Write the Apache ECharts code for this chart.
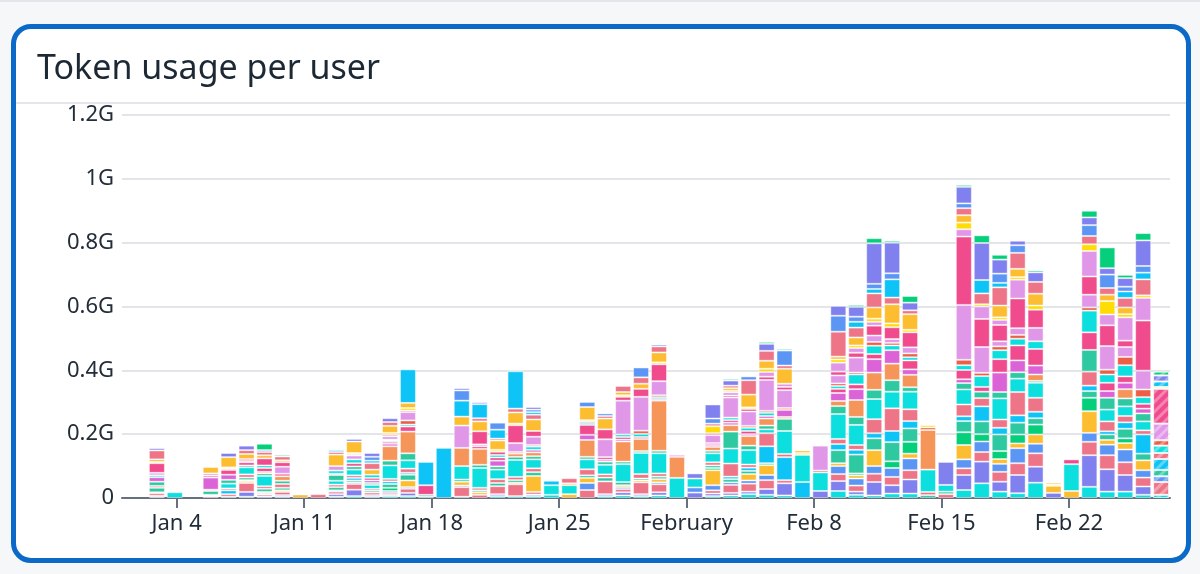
<!DOCTYPE html>
<html>
<head>
<meta charset="utf-8">
<script src="https://cdn.jsdelivr.net/npm/echarts@6/dist/echarts.min.js"></script>
<style>
html,body{margin:0;padding:0;width:1200px;height:574px;overflow:hidden;background:#f6f7f9;font-family:"Noto Sans",sans-serif;}
#topline{position:absolute;left:0;top:0;width:1200px;height:2px;background:#e3e5ea;}
#card{position:absolute;left:11px;top:24px;width:1170px;height:529px;border:5px solid #0b69c7;border-radius:20px;background:#fff;}
#sep{position:absolute;left:0;right:0;top:73px;height:2px;background:#e4e6eb;}
#chart{position:absolute;left:0;top:0;width:1200px;height:574px;}
</style>
</head>
<body>
<div id="topline"></div>
<div id="card"><div id="sep"></div></div>
<div id="chart"></div>
<script>
// Days shown (one stacked bar per day), 2026
const dates = [
 '2026-01-01','2026-01-02','2026-01-03','2026-01-04','2026-01-05','2026-01-06','2026-01-07','2026-01-08','2026-01-09','2026-01-10',
 '2026-01-11','2026-01-12','2026-01-13','2026-01-14','2026-01-15','2026-01-16','2026-01-17','2026-01-18','2026-01-19','2026-01-20',
 '2026-01-21','2026-01-22','2026-01-23','2026-01-24','2026-01-25','2026-01-26','2026-01-27','2026-01-28','2026-01-29','2026-01-30',
 '2026-01-31','2026-02-01','2026-02-02','2026-02-03','2026-02-04','2026-02-05','2026-02-06','2026-02-07','2026-02-08','2026-02-09',
 '2026-02-10','2026-02-11','2026-02-12','2026-02-13','2026-02-14','2026-02-15','2026-02-16','2026-02-17','2026-02-18','2026-02-19',
 '2026-02-20','2026-02-21','2026-02-22','2026-02-23','2026-02-24','2026-02-25','2026-02-26','2026-02-27'
];
// Weekly tick marks on the time axis
const tickDates  = ['2026-01-04','2026-01-11','2026-01-18','2026-01-25','2026-02-01','2026-02-08','2026-02-15','2026-02-22'];
const tickLabels = ['Jan 4','Jan 11','Jan 18','Jan 25','February','Feb 8','Feb 15','Feb 22'];
const axisStart = '2026-01-01T00:00';
const axisEnd   = '2026-02-27T13:12';
const yTicks = [0, 200, 400, 600, 800, 1000, 1200]; // millions of tokens

// Tokens per user per day (millions)
const userA = [0,3,18,0,0,4,4,0,4,0, 0,4,6,4,6,6,4,0,4,0, 6,6,6,10,0,0,6,8,6,8, 0,0,6,8,12,10,8,0,0,22, 10,8,14,14,0,0,25,46,20,15, 48,0,0,35,20,20,10,10];
const userB = [0,4,0,0,0,0,15,5,5,0, 0,8,20,5,4,10,0,0,0,0, 6,0,5,0,0,0,6,10,6,10, 0,17,8,8,8,18,38,0,22,31, 10,42,26,44,0,0,47,68,31,57, 50,16,0,99,70,52,26,0];
const userC = [0,8,0,0,5,8,28,6,10,0, 12,8,18,8,6,13,0,0,30,10, 25,37,8,0,0,25,40,10,37,25, 0,0,10,25,25,28,10,0,0,22, 19,26,26,29,0,12,21,30,31,37, 42,0,0,42,44,40,28,40];
const userD = [0,3,0,0,2,0,0,4,0,0, 0,4,5,0,6,5,0,0,5,0, 0,0,0,0,0,22,0,6,0,6, 0,16,16,8,10,16,0,0,0,25, 22,24,28,37,0,0,28,33,25,47, 30,0,0,28,33,40,23,18];
const userE = [0,0,0,0,3,0,6,4,5,11, 0,0,0,0,0,21,0,0,12,8, 0,5,50,0,12,16,0,6,6,10, 0,0,47,0,20,31,0,0,0,9, 10,50,0,15,0,0,45,0,15,15, 29,22,22,68,15,20,31,0];
const userF = [0,0,0,0,0,0,3,0,0,0, 0,0,0,0,10,0,0,0,0,0, 0,0,0,0,0,0,0,0,0,0, 0,0,7,0,0,6,0,0,0,0, 6,0,21,37,0,0,40,23,25,28, 31,0,0,42,0,15,0,0];
const userG = [0,14,0,0,12,0,8,10,8,0, 0,10,6,6,12,18,6,0,7,6, 10,8,12,0,0,8,12,10,6,8, 0,0,8,10,10,0,0,0,0,41, 59,37,60,42,9,8,35,40,52,37, 20,0,0,21,17,30,21,20];
const userH = [0,0,0,0,0,12,0,0,0,0, 0,0,8,0,8,6,0,0,0,0, 0,0,0,0,0,0,0,0,0,0, 0,0,0,8,10,53,72,50,0,19, 15,16,35,23,0,0,15,47,21,23, 20,0,0,17,10,20,60,34];
const userI = [0,6,0,0,4,6,10,8,12,0, 0,8,8,6,8,13,0,0,0,8, 12,10,12,0,0,19,10,0,14,10, 0,0,10,41,10,41,10,0,0,16, 15,44,71,37,10,0,37,26,26,73, 44,0,0,44,31,20,13,19];
const userJ = [0,0,0,0,0,15,22,32,0,0, 0,12,18,12,42,26,0,0,42,62, 30,53,28,30,28,31,30,56,66,63, 63,28,28,47,45,12,72,85,58,78, 63,63,52,55,70,21,47,0,66,42, 47,0,84,0,37,30,28,23];
const userK = [0,13,0,0,0,12,6,8,10,0, 0,18,10,6,15,22,0,0,0,10, 10,10,10,0,0,8,10,8,6,8, 0,0,8,53,14,12,38,0,0,25, 25,29,36,14,0,0,20,20,20,20, 6,0,0,68,37,25,25,0];
const userL = [0,0,0,0,0,0,0,5,14,0, 0,0,0,0,45,68,0,0,57,50, 0,10,12,0,0,53,0,63,38,157, 66,0,12,20,30,22,6,0,0,16, 53,54,52,39,124,0,0,0,0,0, 20,0,0,0,0,29,0,0];
const userM = [0,14,0,0,38,16,0,0,0,0, 0,0,0,8,8,0,0,0,0,0, 18,0,8,0,0,16,6,6,0,5, 6,0,6,8,6,8,22,0,0,25, 34,42,42,17,0,0,12,0,61,37, 28,0,0,0,21,20,15,0];
const userN = [0,0,0,0,6,15,10,12,8,0, 0,4,10,8,6,16,30,0,0,8, 10,0,0,0,0,31,8,8,6,0, 0,0,6,8,10,0,0,0,0,13, 15,16,0,28,0,0,29,15,42,47, 52,0,15,55,26,20,15,0];
const userO = [0,6,0,0,0,0,0,8,0,0, 0,10,12,10,4,6,0,0,0,0, 8,0,10,0,0,6,0,8,10,6, 0,0,0,8,10,10,0,0,0,9, 31,26,15,10,0,0,15,34,28,21, 24,0,0,68,26,35,21,0];
const userP = [0,0,0,0,0,0,4,0,0,0, 0,0,0,0,3,13,0,0,0,0, 0,5,5,0,0,5,0,0,10,6, 0,0,0,0,6,6,6,0,6,8, 6,12,8,12,8,0,17,10,12,12, 0,0,0,10,15,26,24,17];
const userQ = [0,8,0,0,7,0,0,0,22,0, 0,14,12,0,10,26,0,0,70,6, 0,28,26,0,0,0,56,106,106,44, 0,0,25,63,45,97,56,0,78,25, 47,20,12,19,0,0,172,81,16,21, 42,0,0,40,74,31,59,52];
const userR = [0,30,0,0,0,4,6,22,14,0, 0,0,4,0,5,5,0,0,0,41, 10,56,18,0,0,0,31,12,25,53, 0,0,6,6,8,10,10,0,0,12, 15,31,37,47,0,0,214,88,51,93, 57,0,0,57,65,20,157,109];
const userS = [0,0,0,0,0,0,0,0,0,0, 0,0,0,0,0,0,0,0,0,0, 0,0,0,0,0,0,0,0,0,0, 0,0,0,10,0,15,10,0,0,28, 15,12,0,0,0,0,23,39,16,59, 0,0,0,80,34,73,71,0];
const userT = [0,4,0,0,0,4,0,0,0,0, 0,0,4,0,6,8,0,0,0,0, 6,5,0,0,0,4,0,5,0,6, 0,0,22,5,5,10,0,6,0,10, 8,10,12,8,7,0,21,7,8,8, 13,4,0,21,42,10,8,6];
const userU = [0,8,0,0,20,32,16,10,6,0, 0,36,36,16,22,16,0,0,28,31, 29,35,36,0,6,41,34,10,16,31, 0,0,0,8,40,25,47,8,0,9, 25,35,60,49,0,0,23,0,37,26, 37,6,0,0,20,21,0,0];
const userV = [0,28,0,0,0,0,12,10,12,0, 0,8,0,20,12,0,0,0,0,10, 6,12,15,0,16,0,8,19,20,19, 0,0,8,8,45,31,10,0,0,78, 31,44,21,12,0,0,22,34,57,50, 37,0,0,26,21,30,50,0];
const userW = [0,0,0,0,0,0,0,0,0,0, 0,6,0,8,0,105,73,157,50,44, 28,117,8,14,0,0,0,0,0,0, 0,0,0,0,0,0,0,0,0,0, 18,14,57,0,0,0,0,42,14,0, 0,0,0,0,0,20,21,17];
const userX = [0,0,0,0,0,0,0,0,0,0, 0,0,0,12,0,0,0,0,32,0, 22,0,8,0,0,16,8,0,31,6, 0,0,16,0,12,0,47,0,0,50, 16,16,19,0,0,0,15,0,29,24, 0,0,0,34,42,15,21,0];
const userY = [0,7,0,0,0,13,14,6,0,0, 0,0,8,12,12,0,0,0,7,6, 0,0,8,0,0,0,0,0,0,0, 0,16,44,16,0,22,0,0,0,31, 31,127,96,24,0,72,52,116,44,14, 30,0,0,24,20,27,80,19];
const userZ = [0,0,0,0,0,0,0,20,5,0, 0,0,0,0,0,0,0,0,0,0, 0,4,0,0,0,0,0,0,0,0, 0,0,0,5,0,6,5,0,0,3, 6,16,6,21,0,0,6,24,15,0, 6,0,0,21,65,10,23,12];

const userNames = ['user-a','user-b','user-c','user-d','user-e','user-f','user-g','user-h','user-i','user-j','user-k','user-l','user-m',
                   'user-n','user-o','user-p','user-q','user-r','user-s','user-t','user-u','user-v','user-w','user-x','user-y','user-z'];
const userValues = [userA,userB,userC,userD,userE,userF,userG,userH,userI,userJ,userK,userL,userM,
                    userN,userO,userP,userQ,userR,userS,userT,userU,userV,userW,userX,userY,userZ];
const userColors = ['#0ddede','#8080ef','#ee7587','#5b96f5','#fcbd31','#05cf7b','#2ec9a1','#0ec3f6','#ee7587','#0ddede','#2ec9a1','#f5955a','#db62d7',
                    '#ef4b8d','#0ddede','#ec5f46','#e197e8','#ef4b8d','#e197e8','#ffdc05','#fcbd31','#ee7587','#0ec3f6','#5b96f5','#8080ef','#05cf7b'];

const chart = echarts.init(document.getElementById('chart'), null, {renderer:'canvas'});
const ts = s => { const [d, t] = s.split('T'); const [y, m, dd] = d.split('-').map(Number);
  const [hh, mm] = (t || '00:00').split(':').map(Number); return new Date(y, m - 1, dd, hh, mm).getTime(); };
const DAY = 86400000;
const t0 = ts(axisStart), t1 = ts(axisEnd);
const noon = d => ts(d + 'T12:00');
// second (label) axis measured in days from the axis start
const tickDays = tickDates.map(d => Math.round((ts(d) - t0) / DAY));
const lastIdx = dates.length - 1;
const hatch = {symbol:'rect', symbolSize:1, color:'rgba(255,255,255,0.32)', dashArrayX:[1,0], dashArrayY:[3,4], rotation:-Math.PI/4};

const series = userNames.map((name, ui) => ({
  type:'bar', name, stack:'tokens', barWidth:16, silent:true, clip:true, xAxisIndex:0,
  itemStyle:{color:userColors[ui], borderColor:'rgba(255,255,255,0.45)', borderWidth:1},
  data: userValues[ui].map((v, i) => {
    const item = {value:[noon(dates[i]), v > 0 ? v : '-']};
    if (i === lastIdx) item.itemStyle = {decal: hatch};
    return item;
  })
}));

const labelColor = '#222d39';
const axisColor = '#66707f';
chart.setOption({
  animation:false,
  backgroundColor:'transparent',
  title:{text:'Token usage per user', left:37, top:52, padding:0,
    textStyle:{fontFamily:'Noto Sans', fontSize:34, fontWeight:'normal', color:'#1c2935'}},
  grid:{left:122, right:30, top:115, bottom:76, containLabel:false},
  xAxis:[{
    type:'time', min:t0, max:t1, position:'bottom',
    axisLine:{show:true, lineStyle:{color:axisColor, width:2}},
    axisTick:{show:false}, axisLabel:{show:false}, splitLine:{show:false}
  },{
    type:'value', min:0, max:(t1 - t0) / DAY, position:'bottom',
    axisLine:{show:false},
    axisTick:{show:true, customValues:tickDays, length:10, lineStyle:{color:axisColor, width:2}},
    axisLabel:{customValues:tickDays, margin:15, fontFamily:'Noto Sans', fontSize:22, color:labelColor,
      formatter: v => { const k = tickDays.indexOf(Math.round(v)); return k >= 0 ? tickLabels[k] : ''; }},
    splitLine:{show:false}
  }],
  yAxis:{
    type:'value', min:yTicks[0], max:yTicks[yTicks.length-1], interval:yTicks[1]-yTicks[0],
    axisLine:{show:false}, axisTick:{show:false},
    axisLabel:{margin:8, fontFamily:'Noto Sans', fontSize:22, color:labelColor,
      formatter: v => v === 0 ? '0' : (v/1000) + 'G'},
    splitLine:{show:true, lineStyle:{color:'#e4e5e9', width:2}}
  },
  series
});
</script>
</body>
</html>
